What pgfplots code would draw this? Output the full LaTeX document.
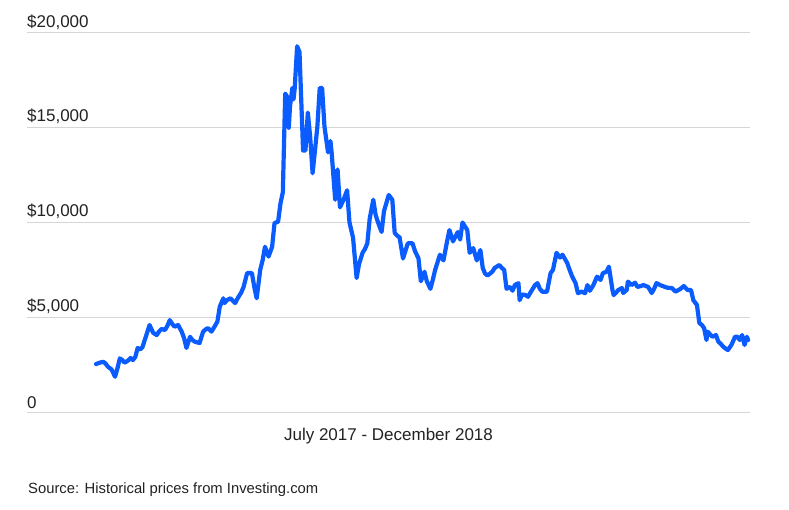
\documentclass[border=0pt]{standalone}
\usepackage{pgfplots}
\pgfplotsset{compat=1.18}
\usepackage{fontspec}
\setmainfont{Liberation Sans}
\definecolor{btc}{RGB}{10,92,255}
\definecolor{gridc}{RGB}{214,214,214}
\definecolor{txt}{RGB}{34,34,34}
\pgfplotstableread{
d v
0 2530
3 2600
6 2650
8 2560
10 2390
13 2250
16 1860
18 2300
20 2830
22 2750
24 2600
27 2720
29 2850
31 2740
33 2900
35 3380
37 3300
39 3420
42 4000
45 4590
48 4180
51 4060
53 4250
55 4380
58 4330
60 4550
62 4850
64 4650
66 4500
69 4590
72 4240
74 3900
76 3380
79 3970
81 3800
83 3710
87 3640
90 4240
92 4350
94 4430
97 4240
100 4550
102 4770
104 5560
107 6000
108 5750
110 5900
113 6000
117 5750
119 6000
122 6300
124 6600
127 7330
131 7330
133 6600
135 6000
138 7500
140 8000
142 8720
145 8200
148 8720
150 9970
153 10040
155 11000
157 11600
159 16800
161 16600
162 15000
163 16100
165 17100
166 16500
167 17100
169 19300
171 19000
174 13800
176 13800
178 15800
180 14500
182 12600
184 13800
186 15050
188 17100
190 17100
192 15050
195 13700
197 14300
198 13700
201 11200
203 12800
205 10800
208 11200
211 11700
213 10000
216 9200
219 7070
221 7800
223 8200
224 8400
226 8600
228 8900
230 10200
233 11200
235 10400
237 10000
240 9500
242 10600
246 11450
249 11200
251 9450
254 9250
255 9250
258 8100
260 8500
262 8900
266 8900
268 8500
271 8100
273 6900
276 7400
278 6900
281 6500
283 6970
285 7500
287 7900
289 8300
292 8000
295 9000
297 9600
300 9000
302 9250
304 9500
306 9100
308 10000
310 9800
312 9600
314 8400
317 8650
320 8000
323 8550
325 7600
327 7300
329 7200
333 7400
335 7600
339 7760
341 7600
343 7500
345 6500
348 6600
350 6400
352 6700
355 6800
356 5900
358 6200
361 6170
363 6080
366 6400
369 6700
371 6800
373 6500
375 6350
379 6350
382 7330
384 7500
387 8400
390 8150
392 8300
396 7860
398 7500
400 7170
403 6800
405 6270
408 6350
411 6270
413 6700
415 6400
418 6700
421 7140
424 6970
426 7330
429 7400
431 7670
434 6440
435 6170
437 6300
439 6440
442 6540
443 6280
446 6440
447 6880
450 6700
453 6820
455 6600
458 6650
460 6700
464 6600
467 6280
469 6500
471 6800
474 6700
476 6650
480 6560
484 6540
487 6350
491 6490
494 6650
497 6440
500 6440
502 5900
505 5650
507 4700
509 4600
511 4430
513 3800
514 4240
516 4100
518 3970
521 4060
523 3710
525 3600
527 3450
529 3350
531 3270
534 3540
537 3970
539 3970
541 3800
543 4060
545 3540
547 3970
548 3800
}\btcdata
\begin{document}
\begin{tikzpicture}[x=1pt,y=1pt]
\path[use as bounding box] (0,0) rectangle (789,509);
\begin{axis}[
  at={(27pt,97pt)}, anchor=south west,
  scale only axis, width=723pt, height=379pt,
  xmin=-58, xmax=549.6, ymin=0, ymax=20000,
  axis line style={draw=none},
  xtick=\empty,
  ytick={0,5000,10000,15000,20000},
  yticklabels={{0},{\$5,000},{\$10,000},{\$15,000},{\$20,000}},
  scaled y ticks=false,
  major tick length=0pt,
  ymajorgrids,
  grid style={gridc, line width=1pt},
  yticklabel style={anchor=south west, inner sep=0pt, xshift=0pt, yshift=3.5pt,
    font=\fontsize{17}{20}\selectfont, text=txt},
  clip=false,
]
\addplot[btc, line width=4.2pt, line join=round, line cap=round] table[x=d, y=v] {\btcdata};
\end{axis}
\node[anchor=base, text=txt, font=\fontsize{17}{20}\selectfont, inner sep=0pt] at (388.5,68.3) {July 2017 - December 2018};
\node[anchor=base west, text=txt, font=\fontsize{14.8}{18}\selectfont, inner sep=0pt] at (28,15.7) {Source: Historical prices from Investing.com};
\end{tikzpicture}
\end{document}
